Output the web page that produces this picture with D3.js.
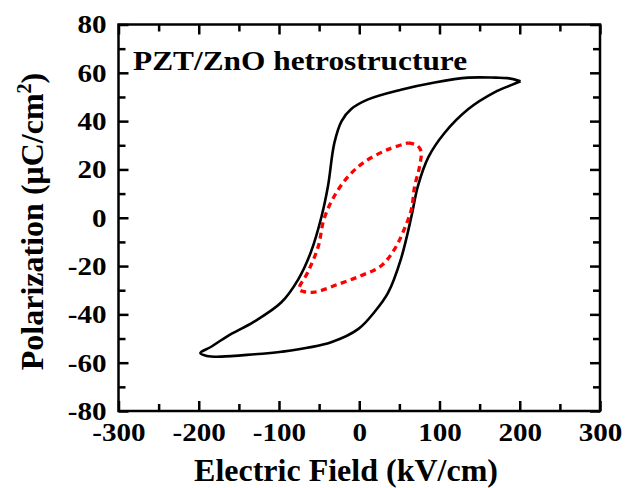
<!DOCTYPE html>
<html lang="en">
  <head>
    <meta charset="utf-8">
    <title>PZT/ZnO P-E loop</title>
    <script src="https://cdn.jsdelivr.net/npm/d3@7"></script>
    <style>
      body { margin: 0; background: #fff; }
      svg text { font-family: "Liberation Serif", "Times New Roman", serif; font-weight: bold; fill: #000; }
    </style>
  </head>
  <body>
    <script>
      // hysteresis loops (E in kV/cm, P in uC/cm2)
      var blackE = [201, 185, 170, 136, 94, 52, 11, -10, -22, -31, -39, -47, -60, -76, -97, -131, -164, -185, -198,
                    -190, -172, -130, -97, -35, -1, 19, 36, 52, 65, 73, 86, 106, 136, 169, 190, 201];
      var blackP = [56.5, 57.8, 58, 58, 56, 53, 49, 45, 40, 31, 13, 0.5, -14, -25.5, -35, -43, -49, -53.5, -56,
                    -57.2, -57.5, -56.5, -55.5, -51.5, -46, -39, -31, -17, 0.5, 13, 25, 35, 45, 52, 55, 56.5];
      var redE = [61, 72, 77, 75, 69, 65, 56, 44, 27, 2, -26, -56, -70, -75, -64, -51, -44, -31, -14, 6, 36, 61];
      var redP = [31, 30, 27.5, 21, 13, 3.5, -4.8, -13, -20, -24, -27.5, -30.8, -30.5, -29.5, -22.5, -11.8, -0.6, 9, 17, 23, 28.3, 31];

      var xMajor = [-300, -200, -100, 0, 100, 200, 300];
      var xMinor = [-250, -150, -50, 50, 150, 250];
      var yMajor = [-80, -60, -40, -20, 0, 20, 40, 60, 80];
      var yMinor = [-70, -50, -30, -10, 10, 30, 50, 70];

      var W = 628, H = 488;
      var mL = 118.5, mR = 600, mT = 24.5, mB = 411;
      var sx = 1.12; // tick labels look horizontally stretched
      var fmt = function(d) { return String(d); }; // plain hyphen minus

      var svg = d3.select("body").append("svg")
                  .attr("width", W)
                  .attr("height", H);

      var x = d3.scaleLinear().domain([-300, 300]).range([mL, mR]);
      var y = d3.scaleLinear().domain([-80, 80]).range([mB, mT]);

      function styleAxis(g) {
        g.select(".domain").remove();
        g.selectAll("line").attr("stroke", "#000").attr("stroke-width", 2.5);
      }

      // bottom axis with labels
      svg.append("g").attr("transform", "translate(0," + mB + ")")
         .call(d3.axisBottom(x).tickValues(xMajor).tickFormat(fmt).tickSizeInner(-10).tickSizeOuter(0).tickPadding(12))
         .call(styleAxis)
         .selectAll("text").style("font-size", "26px").attr("transform", "scale(" + sx + ",1)");
      svg.append("g").attr("transform", "translate(0," + mB + ")")
         .call(d3.axisBottom(x).tickValues(xMinor).tickSizeInner(-7).tickSizeOuter(0).tickFormat(""))
         .call(styleAxis);
      // top mirror
      svg.append("g").attr("transform", "translate(0," + mT + ")")
         .call(d3.axisTop(x).tickValues(xMajor).tickSizeInner(-10).tickSizeOuter(0).tickFormat(""))
         .call(styleAxis);
      svg.append("g").attr("transform", "translate(0," + mT + ")")
         .call(d3.axisTop(x).tickValues(xMinor).tickSizeInner(-7).tickSizeOuter(0).tickFormat(""))
         .call(styleAxis);

      // left axis with labels
      svg.append("g").attr("transform", "translate(" + mL + ",0)")
         .call(d3.axisLeft(y).tickValues(yMajor).tickFormat(fmt).tickSizeInner(-10).tickSizeOuter(0).tickPadding(12))
         .call(styleAxis)
         .selectAll("text").style("font-size", "26px")
         .attr("x", -12 / sx)
         .attr("transform", "scale(" + sx + ",1)");
      svg.append("g").attr("transform", "translate(" + mL + ",0)")
         .call(d3.axisLeft(y).tickValues(yMinor).tickSizeInner(-7).tickSizeOuter(0).tickFormat(""))
         .call(styleAxis);
      // right mirror
      svg.append("g").attr("transform", "translate(" + mR + ",0)")
         .call(d3.axisRight(y).tickValues(yMajor).tickSizeInner(-10).tickSizeOuter(0).tickFormat(""))
         .call(styleAxis);
      svg.append("g").attr("transform", "translate(" + mR + ",0)")
         .call(d3.axisRight(y).tickValues(yMinor).tickSizeInner(-7).tickSizeOuter(0).tickFormat(""))
         .call(styleAxis);

      // frame
      svg.append("rect")
         .attr("x", mL).attr("y", mT)
         .attr("width", mR - mL).attr("height", mB - mT)
         .attr("fill", "none").attr("stroke", "#000").attr("stroke-width", 2.5);

      var line = d3.line()
                   .x(function(d) { return x(d[0]); })
                   .y(function(d) { return y(d[1]); })
                   .curve(d3.curveCatmullRom.alpha(0.5));

      svg.append("path")
         .datum(d3.zip(blackE, blackP))
         .attr("d", line)
         .attr("fill", "none")
         .attr("stroke", "#000")
         .attr("stroke-width", 2.6)
         .attr("stroke-linejoin", "round");

      svg.append("path")
         .datum(d3.zip(redE, redP))
         .attr("d", line)
         .attr("fill", "none")
         .attr("stroke", "#ff0000")
         .attr("stroke-width", 3.3)
         .attr("stroke-dasharray", "6,4.5");

      // annotation
      svg.append("text")
         .attr("x", 133 / 1.12).attr("y", 70)
         .attr("transform", "scale(1.12,1)")
         .style("font-size", "28px")
         .text("PZT/ZnO hetrostructure");

      // axis titles
      svg.append("text")
         .attr("x", 346).attr("y", 481)
         .attr("text-anchor", "middle")
         .style("font-size", "32px")
         .text("Electric Field (kV/cm)");

      var yt = svg.append("text")
         .attr("transform", "translate(43,221.5) rotate(-90)")
         .attr("text-anchor", "middle")
         .style("font-size", "32px");
      yt.append("tspan").text("Polarization (\u03bcC/cm");
      yt.append("tspan").attr("dy", -12).style("font-size", "20px").text("2");
      yt.append("tspan").attr("dy", 12).text(")");
    </script>
  </body>
</html>
